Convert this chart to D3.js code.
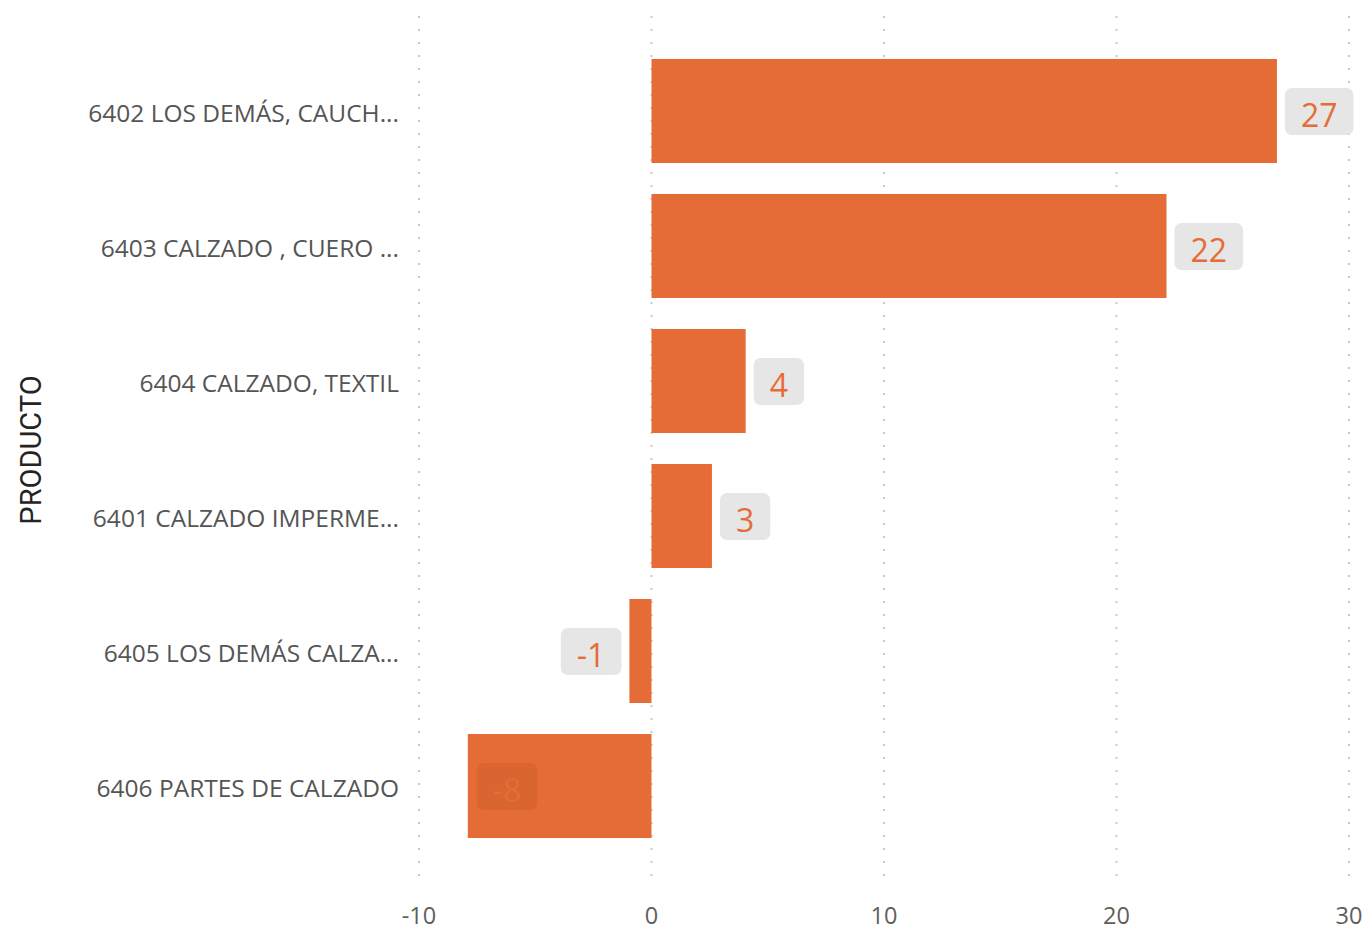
<!DOCTYPE html>
<html>
<head>
<meta charset="utf-8">
<script src="https://cdn.jsdelivr.net/npm/d3@7"></script>
<style>
  body { margin: 0; background: #fff; }
  .tick-label { font: 24.5px "Open Sans", "Noto Sans", sans-serif; fill: #555; }
  .x-label { font: 23.5px "Open Sans", "Noto Sans", sans-serif; fill: #605e5c; }
  .axis-title { font: 400 29px Roboto, "DejaVu Sans", sans-serif; fill: #252423; }
  .val { font: 32px "Open Sans", "Noto Sans", sans-serif; fill: #e66c37; }
</style>
</head>
<body>
<svg id="chart" width="1367" height="931"></svg>
<script>
const products = [
  "6402 LOS DEMÁS, CAUCH...",
  "6403 CALZADO , CUERO ...",
  "6404 CALZADO, TEXTIL",
  "6401 CALZADO IMPERME...",
  "6405 LOS DEMÁS CALZA...",
  "6406 PARTES DE CALZADO"
]
const values = [26.9, 22.15, 4.05, 2.6, -0.95, -7.9]
const xTicks = [-10, 0, 10, 20, 30]

const svg = d3.select("#chart")
const barColor = "#e66c37"

const x = d3.scaleLinear().domain([-10, 30]).range([419, 1349])
const y = d3.scaleBand()
  .domain(products)
  .range([40, 857])
  .paddingInner(0.2296)
  .paddingOuter(0.1407)

// dotted gridlines
svg.append("g")
  .selectAll("line")
  .data(xTicks).enter()
    .append("line")
      .attr("x1", d => x(d))
      .attr("x2", d => x(d))
      .attr("y1", 16)
      .attr("y2", 884)
      .attr("stroke", "#c8c8c8")
      .attr("stroke-width", 2)
      .attr("stroke-dasharray", "2 11")

// x tick labels
svg.append("g")
  .selectAll("text")
  .data(xTicks).enter()
    .append("text")
      .attr("class", "x-label")
      .attr("x", d => x(d))
      .attr("y", 924)
      .attr("text-anchor", "middle")
      .text(d => d)

// category labels
svg.append("g")
  .selectAll("text")
  .data(products).enter()
    .append("text")
      .attr("class", "tick-label")
      .attr("x", 399)
      .attr("y", d => y(d) + y.bandwidth() / 2 + 2)
      .attr("dy", "0.36em")
      .attr("text-anchor", "end")
      .text(d => d)

svg.append("text")
  .attr("class", "axis-title")
  .attr("transform", `translate(41, 450) rotate(-90)`)
  .attr("text-anchor", "middle")
  .text("PRODUCTO")

// bars
svg.append("g")
  .selectAll("rect")
  .data(values).enter()
    .append("rect")
      .attr("x", d => x(Math.min(0, d)))
      .attr("y", (d, i) => y(products[i]))
      .attr("width", d => Math.abs(x(d) - x(0)))
      .attr("height", y.bandwidth())
      .attr("fill", barColor)

// data labels
const labels = svg.append("g")
values.forEach((v, i) => {
  const txt = String(Math.round(v))
  const cy = y(products[i]) + y.bandwidth() / 2
  const g = labels.append("g")
  const t = g.append("text")
    .attr("class", "val")
    .attr("text-anchor", "middle")
    .attr("y", cy + 4)
    .attr("dy", "0.36em")
    .text(txt)
  const w = Math.max(50, t.node().getComputedTextLength() + 32)
  const inside = v < 0 && x(v) - 8 - w < x.range()[0] + 40
  let bx
  if (inside) bx = x(v) + 9
  else if (v >= 0) bx = x(v) + 8
  else bx = x(v) - 8 - w
  t.attr("x", bx + w / 2)
  g.insert("rect", "text")
    .attr("x", bx)
    .attr("y", cy - 23)
    .attr("width", w)
    .attr("height", 47)
    .attr("rx", 7)
    .attr("fill", inside ? "rgba(120,40,0,0.1)" : "#e6e6e6")
})
</script>
</body>
</html>
